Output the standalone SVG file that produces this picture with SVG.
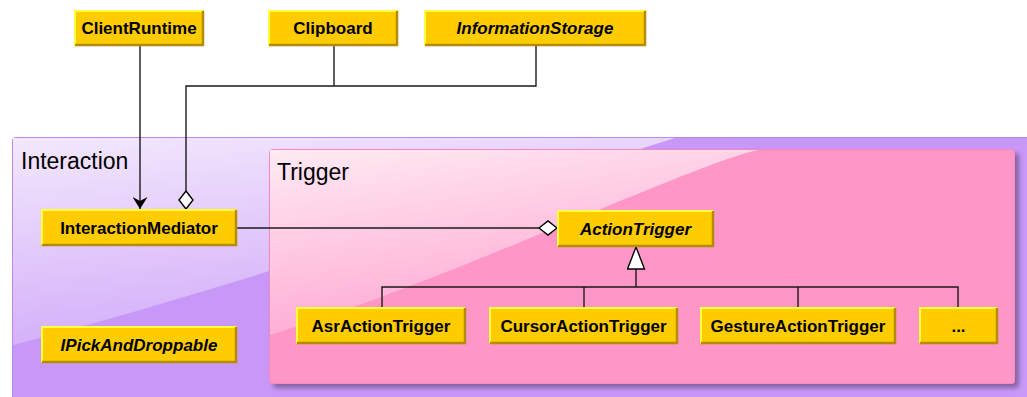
<svg xmlns="http://www.w3.org/2000/svg" width="1027" height="397" viewBox="0 0 1027 397">
<style>
  .box{fill:#ffcc00}
  .hl{fill:none;stroke:#ffff40;stroke-width:2}
  .dk{fill:none;stroke:#b48c00;stroke-width:2.5}
  .lbl{font-family:"Liberation Sans",Arial,sans-serif;font-weight:bold;font-size:17px;text-anchor:middle;fill:#000}
  .it{font-style:italic}
  .pkg{font-family:"Liberation Sans",Arial,sans-serif;font-size:23px;fill:#000}
  .con{fill:none;stroke:#1a1a1a;stroke-width:1.4}
</style>
<defs>
  <linearGradient id="gI" x1="0" y1="0" x2="0.35" y2="1">
    <stop offset="0" stop-color="#ffffff" stop-opacity="0.78"/>
    <stop offset="1" stop-color="#ffffff" stop-opacity="0.18"/>
  </linearGradient>
  <linearGradient id="gT" x1="0" y1="0" x2="0.4" y2="1">
    <stop offset="0" stop-color="#ffffff" stop-opacity="0.8"/>
    <stop offset="1" stop-color="#ffffff" stop-opacity="0.15"/>
  </linearGradient>
  <filter id="sh" x="-5%" y="-5%" width="115%" height="120%">
    <feDropShadow dx="4" dy="4" stdDeviation="2.5" flood-color="#000" flood-opacity="0.35"/>
  </filter>
  <marker id="arrow" viewBox="0 0 12 15" refX="12" refY="7.5" markerWidth="12" markerHeight="15" markerUnits="userSpaceOnUse" orient="auto">
    <path d="M0,0 L12,7.5 L0,15 L4,7.5 Z" fill="#000"/>
  </marker>
  <marker id="diamond" viewBox="-1 -1 20 16" refX="18" refY="7" markerWidth="20" markerHeight="16" markerUnits="userSpaceOnUse" orient="auto">
    <path d="M0,7 L9,0 L18,7 L9,14 Z" fill="#fff" stroke="#000" stroke-width="1.4"/>
  </marker>
  <marker id="tri" viewBox="-1 -1 24 19" refX="22" refY="8.5" markerWidth="24" markerHeight="19" markerUnits="userSpaceOnUse" orient="auto">
    <path d="M0,0 L22,8.5 L0,17 Z" fill="#fff" stroke="#000" stroke-width="1.4"/>
  </marker>
</defs>

<rect width="1027" height="397" fill="#ffffff"/>

<g id="pkg-Interaction">
  <rect x="12.5" y="137.5" width="1030" height="270" rx="3" fill="#c898f8" stroke="#b98ae8" stroke-width="1"/>
  <path d="M13,138 H675 C 600,160 300,270 13,345 Z" fill="url(#gI)"/>
  <text class="pkg" x="21" y="169">Interaction</text>
</g>

<g id="pkg-Trigger">
  <rect x="269.5" y="149.5" width="745" height="234" rx="3" fill="#ff96c8" stroke="#ff88c0" stroke-width="1" filter="url(#sh)"/>
  <path d="M270,150 H758 C 690,165 450,280 270,335 Z" fill="url(#gT)"/>
  <text class="pkg" x="277" y="180">Trigger</text>
</g>

<g id="connectors">
  <path class="con" d="M140,46 V209" marker-end="url(#arrow)"/>
  <path class="con" d="M536,46 V86 H186 V209" marker-end="url(#diamond)"/>
  <path class="con" d="M334,46 V86"/>
  <path class="con" d="M237,228 H557" marker-end="url(#diamond)"/>
  <path class="con" d="M382,307 V287 H958 V307"/>
  <path class="con" d="M584,287 V307"/>
  <path class="con" d="M798,287 V307"/>
  <path class="con" d="M636,287 V247" marker-end="url(#tri)"/>
</g>

<g id="ClientRuntime">
  <rect class="box" x="74" y="10" width="130" height="36"/>
  <path class="hl" d="M75,46 V11 H203"/>
  <path class="dk" d="M75,45 H203 V11"/>
  <text class="lbl" x="139" y="34">ClientRuntime</text>
</g>
<g id="Clipboard">
  <rect class="box" x="268" y="10" width="130" height="36"/>
  <path class="hl" d="M269,46 V11 H397"/>
  <path class="dk" d="M269,45 H397 V11"/>
  <text class="lbl" x="333" y="34">Clipboard</text>
</g>
<g id="InformationStorage">
  <rect class="box" x="424" y="10" width="222" height="36"/>
  <path class="hl" d="M425,46 V11 H645"/>
  <path class="dk" d="M425,45 H645 V11"/>
  <text class="lbl it" x="535" y="34">InformationStorage</text>
</g>
<g id="InteractionMediator">
  <rect class="box" x="41" y="209" width="196" height="37"/>
  <path class="hl" d="M42,245 V210 H236"/>
  <path class="dk" d="M42,245 H236 V210"/>
  <text class="lbl" x="139" y="233.5">InteractionMediator</text>
</g>
<g id="IPickAndDroppable">
  <rect class="box" x="41" y="326" width="196" height="37"/>
  <path class="hl" d="M42,362 V327 H236"/>
  <path class="dk" d="M42,362 H236 V327"/>
  <text class="lbl it" x="139" y="350.5">IPickAndDroppable</text>
</g>
<g id="ActionTrigger">
  <rect class="box" x="557" y="210" width="157" height="37"/>
  <path class="hl" d="M558,246 V211 H713"/>
  <path class="dk" d="M558,246 H713 V211"/>
  <text class="lbl it" x="635.5" y="234.5">ActionTrigger</text>
</g>
<g id="AsrActionTrigger">
  <rect class="box" x="296" y="307" width="170" height="37"/>
  <path class="hl" d="M297,343 V308 H465"/>
  <path class="dk" d="M297,343 H465 V308"/>
  <text class="lbl" x="381" y="331.5">AsrActionTrigger</text>
</g>
<g id="CursorActionTrigger">
  <rect class="box" x="489" y="307" width="189" height="37"/>
  <path class="hl" d="M490,343 V308 H677"/>
  <path class="dk" d="M490,343 H677 V308"/>
  <text class="lbl" x="583.5" y="331.5">CursorActionTrigger</text>
</g>
<g id="GestureActionTrigger">
  <rect class="box" x="700" y="307" width="196" height="37"/>
  <path class="hl" d="M701,343 V308 H895"/>
  <path class="dk" d="M701,343 H895 V308"/>
  <text class="lbl" x="798" y="331.5">GestureActionTrigger</text>
</g>
<g id="Ellipsis">
  <rect class="box" x="919" y="307" width="79" height="37"/>
  <path class="hl" d="M920,343 V308 H997"/>
  <path class="dk" d="M920,343 H997 V308"/>
  <text class="lbl" x="958.5" y="331.5">...</text>
</g>
</svg>
